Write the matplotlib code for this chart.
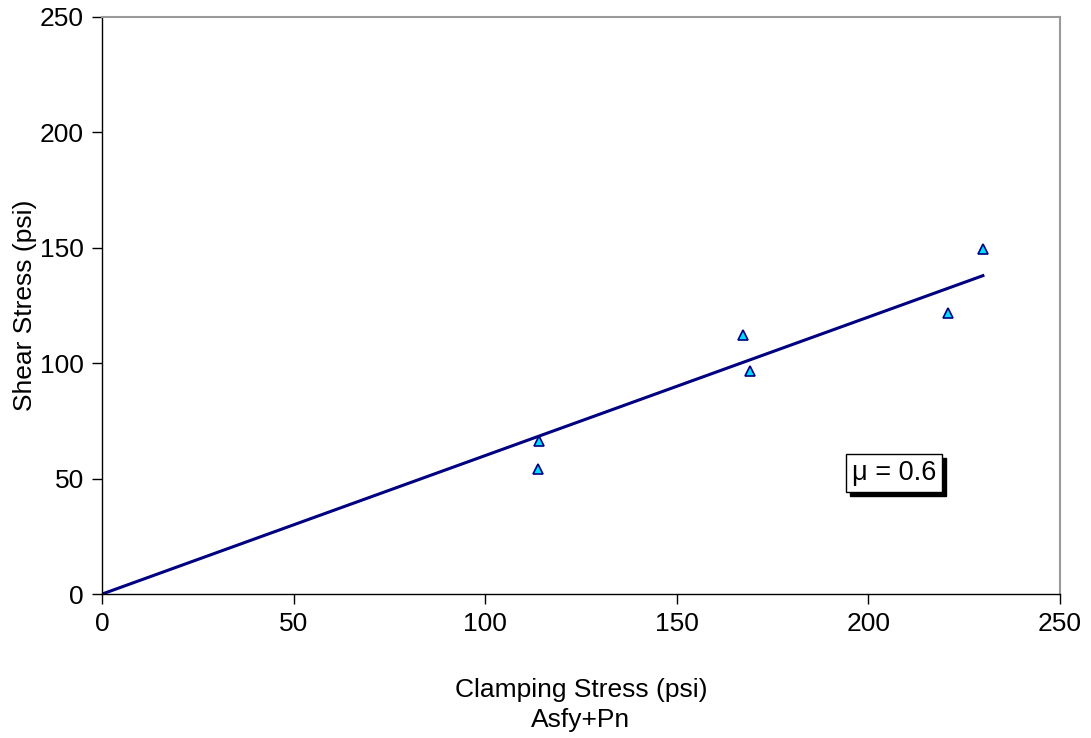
import matplotlib.pyplot as plt
from matplotlib.patches import Shadow

plt.rcParams['font.family'] = ['Liberation Sans', 'DejaVu Sans']

# Test data
clamping = [113.8, 114.0, 167.3, 169.1, 220.8, 229.9]
shear = [54.2, 66.3, 112.2, 96.6, 121.7, 149.5]

# Friction line
mu = 0.6
line_x = [0, 229.9]
line_y = [mu * v for v in line_x]

fig = plt.figure(figsize=(10.91, 7.38), dpi=100)
ax = fig.add_axes([0.0935, 0.195, 0.878, 0.782])

ax.plot(line_x, line_y, color='#000080', lw=2.2, zorder=2)
ax.plot(clamping, shear, linestyle='none', marker='^', markersize=7,
        markerfacecolor='#00DDFF', markeredgecolor='#000080',
        markeredgewidth=1.2, zorder=3)

ax.set_xlim(0, 250)
ax.set_ylim(0, 250)
ax.set_xticks(range(0, 251, 50))
ax.set_yticks(range(0, 251, 50))
ax.tick_params(direction='out', length=7, width=1, labelsize=19, pad=6)

for side in ['top', 'right']:
    ax.spines[side].set_color('#999999')
    ax.spines[side].set_linewidth(1.5)
for side in ['left', 'bottom']:
    ax.spines[side].set_color('black')
    ax.spines[side].set_linewidth(1)

ax.set_xlabel('Clamping Stress (psi)\nAsfy+Pn', fontsize=19, labelpad=30,
              linespacing=1.3)
ax.set_ylabel('Shear Stress (psi)', fontsize=19, labelpad=2)

txt = ax.text(206.7, 52.4, '\u03bc = 0.6', fontsize=19.5, ha='center', va='center',
              bbox=dict(boxstyle='square,pad=0.22', fc='white', ec='black', lw=1))
fig.canvas.draw()
patch = txt.get_bbox_patch()
shadow = Shadow(patch, 3, -3, color='black', alpha=1)
shadow.set_zorder(patch.get_zorder() - 1)
ax.add_artist(shadow)

fig.savefig('out.png', dpi=100)
